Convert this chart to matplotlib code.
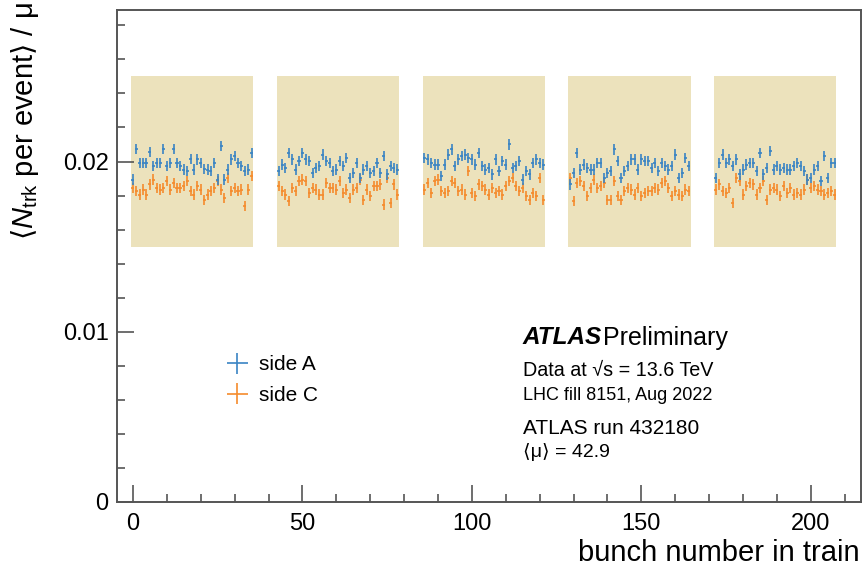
"""Per-bunch track multiplicity along the trains, side A vs side C."""

import matplotlib.pyplot as plt
import numpy as np
from matplotlib.patches import Rectangle

plt.rcParams["font.family"] = ["Liberation Sans", "DejaVu Sans"]
plt.rcParams["mathtext.fontset"] = "custom"
plt.rcParams["mathtext.rm"] = "Liberation Sans"
plt.rcParams["mathtext.it"] = "Liberation Sans:italic"
plt.rcParams["mathtext.sf"] = "DejaVu Sans"

# first bunch of each train, bunches per train
train_starts = [0, 43, 86, 129, 172]
n_bunch = 36
y_err = 0.0003

side_a = [
    # train 1
    [0.01894, 0.02075, 0.01992, 0.01992, 0.01992, 0.02057, 0.01973, 0.01992, 0.01992,
     0.02075, 0.01973, 0.01992, 0.02075, 0.01992, 0.01973, 0.01953, 0.01943, 0.02016,
     0.01953, 0.02012, 0.01992, 0.01957, 0.01953, 0.01943, 0.01992, 0.01894, 0.02090,
     0.01894, 0.01953, 0.02012, 0.02031, 0.01992, 0.01973, 0.01943, 0.01953, 0.02051],
    # train 2
    [0.01943, 0.01982, 0.01963, 0.02051, 0.02012, 0.01953, 0.02002, 0.02051, 0.02012,
     0.02002, 0.01933, 0.01963, 0.01973, 0.02041, 0.02002, 0.01992, 0.01943, 0.01953,
     0.02002, 0.01973, 0.02022, 0.01904, 0.01933, 0.01992, 0.01904, 0.01953, 0.01973,
     0.01933, 0.01943, 0.01992, 0.01933, 0.02031, 0.01924, 0.01973, 0.01963, 0.01953],
    # train 3
    [0.02022, 0.02012, 0.01992, 0.01982, 0.01982, 0.01914, 0.01982, 0.02041, 0.02071,
     0.01973, 0.02012, 0.02031, 0.02041, 0.02022, 0.02012, 0.01982, 0.02051, 0.01973,
     0.01953, 0.01963, 0.01924, 0.02012, 0.01943, 0.02002, 0.01982, 0.02100, 0.01963,
     0.01973, 0.02002, 0.01894, 0.01943, 0.01924, 0.01992, 0.02012, 0.01992, 0.01982],
    # train 4
    [0.01865, 0.01933, 0.02051, 0.01953, 0.01982, 0.01963, 0.01953, 0.01953, 0.01992,
     0.01992, 0.01904, 0.01933, 0.01943, 0.02071, 0.02002, 0.01904, 0.01943, 0.01973,
     0.02012, 0.02012, 0.01953, 0.02012, 0.02002, 0.02002, 0.01963, 0.01992, 0.01943,
     0.01992, 0.01973, 0.01953, 0.01973, 0.02041, 0.01904, 0.01933, 0.02022, 0.01973],
    # train 5
    [0.01904, 0.01992, 0.02041, 0.01992, 0.02012, 0.01973, 0.02012, 0.01924, 0.01953,
     0.01982, 0.01992, 0.01992, 0.01943, 0.02051, 0.01924, 0.01963, 0.02061, 0.01953,
     0.01973, 0.01953, 0.01963, 0.01953, 0.01953, 0.01973, 0.01992, 0.01973, 0.01943,
     0.01894, 0.01904, 0.01953, 0.01973, 0.01884, 0.02031, 0.01904, 0.01992, 0.01992],
]

side_c = [
    [0.01845, 0.01825, 0.01806, 0.01835, 0.01806, 0.01865, 0.01894, 0.01845, 0.01835,
     0.01845, 0.01884, 0.01835, 0.01875, 0.01845, 0.01845, 0.01855, 0.01884, 0.01825,
     0.01806, 0.01855, 0.01835, 0.01776, 0.01806, 0.01825, 0.01845, 0.01884, 0.01835,
     0.01786, 0.01904, 0.01825, 0.01845, 0.01825, 0.01835, 0.01737, 0.01835, 0.01914],
    [0.01855, 0.01825, 0.01806, 0.01767, 0.01845, 0.01825, 0.01884, 0.01894, 0.01884,
     0.01816, 0.01845, 0.01835, 0.01806, 0.01806, 0.01875, 0.01845, 0.01845, 0.01835,
     0.01884, 0.01816, 0.01835, 0.01786, 0.01835, 0.01845, 0.01894, 0.01776, 0.01835,
     0.01796, 0.01855, 0.01855, 0.01865, 0.01747, 0.01904, 0.01757, 0.01865, 0.01806],
    [0.01835, 0.01875, 0.01816, 0.01884, 0.01894, 0.01825, 0.01816, 0.01825, 0.01884,
     0.01875, 0.01825, 0.01835, 0.01806, 0.01943, 0.01816, 0.01796, 0.01865, 0.01855,
     0.01835, 0.01806, 0.01845, 0.01816, 0.01825, 0.01806, 0.01855, 0.01884, 0.01904,
     0.01855, 0.01825, 0.01845, 0.01796, 0.01776, 0.01816, 0.01796, 0.01904, 0.01776],
    [0.01904, 0.01767, 0.01875, 0.01884, 0.01855, 0.01796, 0.01845, 0.01894, 0.01845,
     0.01855, 0.01875, 0.01776, 0.01776, 0.01884, 0.01796, 0.01776, 0.01825, 0.01845,
     0.01835, 0.01806, 0.01845, 0.01796, 0.01816, 0.01825, 0.01825, 0.01845, 0.01835,
     0.01875, 0.01884, 0.01845, 0.01796, 0.01825, 0.01806, 0.01796, 0.01835, 0.01825],
    [0.01835, 0.01865, 0.01825, 0.01816, 0.01845, 0.01757, 0.01904, 0.01884, 0.01806,
     0.01855, 0.01875, 0.01865, 0.01806, 0.01845, 0.01884, 0.01776, 0.01835, 0.01845,
     0.01835, 0.01796, 0.01855, 0.01816, 0.01845, 0.01806, 0.01816, 0.01806, 0.01835,
     0.01894, 0.01845, 0.01855, 0.01835, 0.01825, 0.01806, 0.01816, 0.01825, 0.01806],
]

BLUE = "#3a84c4"
ORANGE = "#f58b2c"
TAN = "#ece2bc"
FRAME = "#555555"


def main():
    fig = plt.figure(figsize=(8.66, 5.70), dpi=100)
    ax = fig.add_axes([117 / 866, 68 / 570, 744 / 866, 492 / 570])

    for start in train_starts:
        ax.add_patch(Rectangle((start - 0.5, 0.015), n_bunch, 0.010,
                               facecolor=TAN, edgecolor="none", zorder=0))

    x = np.concatenate([start + np.arange(n_bunch) for start in train_starts])
    ya = np.concatenate(side_a)
    yc = np.concatenate(side_c)
    eb_c = ax.errorbar(x, yc, yerr=y_err, xerr=0.45, fmt="none", ecolor=ORANGE,
                       elinewidth=1.2, capsize=0, label="side C", zorder=2)
    eb_a = ax.errorbar(x, ya, yerr=y_err, xerr=0.45, fmt="none", ecolor=BLUE,
                       elinewidth=1.2, capsize=0, label="side A", zorder=3)

    ax.set_xlim(-4.7, 214.8)
    ax.set_ylim(0, 0.0289)
    ax.set_xticks([0, 50, 100, 150, 200])
    ax.set_xticks(np.arange(0, 215, 10), minor=True)
    ax.set_yticks([0, 0.01, 0.02])
    ax.set_yticklabels(["0", "0.01", "0.02"])
    ax.set_yticks(np.arange(0, 0.0289, 0.002), minor=True)
    ax.tick_params(which="both", direction="in", top=False, right=False,
                   color=FRAME, labelsize=17, width=1.2)
    ax.tick_params(which="major", length=12)
    ax.tick_params(which="minor", length=6)
    ax.tick_params(axis="x", pad=8)
    ax.tick_params(axis="y", pad=6)
    for sp in ax.spines.values():
        sp.set_color(FRAME)
        sp.set_linewidth(1.4)

    ax.legend([eb_a, eb_c], ["side A", "side C"], loc="upper left",
              bbox_to_anchor=(0.118, 0.336), frameon=False, fontsize=15,
              handlelength=1.3, handletextpad=0.4, labelspacing=0.55)

    fig.text(25 / 866, 1 - 2 / 570,
             r"$\mathsf{⟨}N_{\mathrm{trk}}$ per event$\mathsf{⟩}$ / μ",
             rotation=90, ha="center", va="top", fontsize=21)
    fig.text(860 / 866, 1 - 553 / 570, "bunch number in train",
             ha="right", va="center", fontsize=21)

    fig.text(523 / 866, 1 - 338 / 570, "ATLAS", fontsize=17.5, fontweight="bold",
             fontstyle="italic", va="center")
    fig.text(603 / 866, 1 - 338 / 570, "Preliminary", fontsize=18, va="center")
    fig.text(523 / 866, 1 - 370 / 570, "Data at √s = 13.6 TeV", fontsize=14.2,
             va="center")
    fig.text(523 / 866, 1 - 396 / 570, "LHC fill 8151, Aug 2022", fontsize=13,
             va="center")
    fig.text(523 / 866, 1 - 428 / 570, "ATLAS run 432180", fontsize=15,
             va="center")
    fig.text(523 / 866, 1 - 452 / 570, "⟨μ⟩ = 42.9", fontsize=14, va="center")

    fig.savefig("out.png", dpi=100)


if __name__ == "__main__":
    main()
